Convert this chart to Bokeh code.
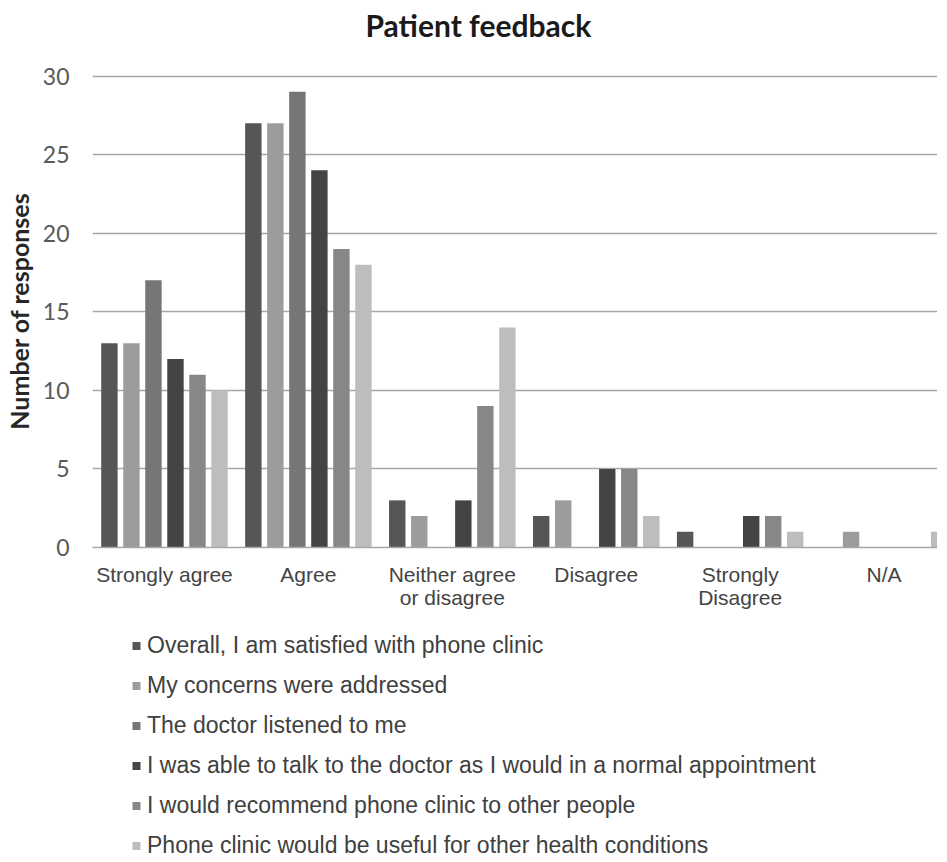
from bokeh.plotting import figure
from bokeh.layouts import column
from bokeh.models import (FixedTicker, Range1d, Legend, LegendItem, ColumnDataSource, Title)
from bokeh.transform import dodge
from bokeh.embed import file_html
from bokeh.resources import INLINE

# ---- data ----
categories = ["Strongly agree", "Agree", "Neither agree\nor disagree", "Disagree",
              "Strongly\nDisagree", "N/A"]
series_names = [
    "Overall, I am satisfied with phone clinic",
    "My concerns were addressed",
    "The doctor listened to me",
    "I was able to talk to the doctor as I would in a normal appointment",
    "I would recommend phone clinic to other people",
    "Phone clinic would be useful for other health conditions",
]
overall = [13, 27, 3, 2, 1, 0]
concerns = [13, 27, 2, 3, 0, 1]
doctor = [17, 29, 0, 0, 0, 0]
able = [12, 24, 3, 5, 2, 0]
recommend = [11, 19, 9, 5, 2, 0]
useful = [10, 18, 14, 2, 1, 1]
y_ticks = [0, 5, 10, 15, 20, 25, 30]

colors = ["#565656", "#9c9c9c", "#767676", "#444444", "#878787", "#bdbdbd"]
keys = ["overall", "concerns", "doctor", "able", "recommend", "useful"]
values = [overall, concerns, doctor, able, recommend, useful]

src = ColumnDataSource(dict(x=list(range(len(categories))),
                            **{k: v for k, v in zip(keys, values)}))

# ---- main chart ----
p = figure(frame_width=845, frame_height=473,
           x_range=Range1d(-0.5, 5.371), y_range=Range1d(0, 30.1),
           output_backend="svg", toolbar_location=None,
           min_border_left=86, min_border_right=0, min_border_top=60,
           min_border_bottom=70)

# spacer between the title and the plot frame
p.add_layout(Title(text=" ", text_font_size="1px", standoff=25), "above")

p.title.text = "Patient feedback"
p.title.text_font = "Lato"
p.title.text_font_size = "30px"
p.title.text_font_style = "bold"
p.title.text_color = "#1a1a1a"
p.title.align = "left"
p.title.offset = 273
p.title.vertical_align = "bottom"
p.title.standoff = 8

n = len(keys)
bar_step = 0.153
for i, (k, c) in enumerate(zip(keys, colors)):
    p.vbar(x=dodge("x", (i - (n - 1) / 2) * bar_step, range=p.x_range), top=k,
           width=0.114, source=src, fill_color=c, line_color=None)

p.xaxis.ticker = FixedTicker(ticks=list(range(len(categories))))
p.xaxis.major_label_overrides = {i: c for i, c in enumerate(categories)}
p.xaxis.major_label_text_font = "Liberation Sans"
p.xaxis.major_label_text_font_size = "21px"
p.xaxis.major_label_text_line_height = 1.0
p.xaxis.major_label_text_color = "#444444"
p.xaxis.major_label_standoff = 9
p.xaxis.major_tick_line_color = None
p.xaxis.minor_tick_line_color = None
p.xaxis.axis_line_color = "#a6a6a6"
p.xaxis.axis_line_width = 1.5

p.yaxis.ticker = FixedTicker(ticks=y_ticks)
p.yaxis.major_label_text_font = "Lato"
p.yaxis.major_label_text_font_size = "23px"
p.yaxis.major_label_text_color = "#595959"
p.yaxis.major_label_standoff = 17
p.yaxis.major_tick_line_color = None
p.yaxis.minor_tick_line_color = None
p.yaxis.axis_line_color = None
p.yaxis.axis_label = "Number of responses"
p.yaxis.axis_label_text_font = "Lato"
p.yaxis.axis_label_text_font_size = "25px"
p.yaxis.axis_label_text_font_style = "bold"
p.yaxis.axis_label_text_color = "#262626"
p.yaxis.axis_label_standoff = 6

p.xgrid.visible = False
p.ygrid.grid_line_color = "#a6a6a6"
p.ygrid.grid_line_width = 1.5
p.outline_line_color = None

# ---- legend panel (below the chart) ----
# its ranges are placed away from the data so that only the legend shows
lg = figure(width=931, height=242, output_backend="svg", toolbar_location=None,
            x_range=Range1d(100, 101), y_range=Range1d(100, 101),
            x_axis_location=None, y_axis_location=None,
            min_border_left=0, min_border_right=0, min_border_top=0,
            min_border_bottom=0)
lg.outline_line_color = None
lg.grid.visible = False

items = []
for name, k, c in zip(series_names, keys, colors):
    r = lg.scatter(x="x", y=k, source=src, marker="square", size=8,
                   fill_color=c, line_color=None)
    items.append(LegendItem(label=name, renderers=[r]))
legend = Legend(items=items, location=(34, 0), orientation="vertical",
                glyph_width=20, glyph_height=27, label_height=27, spacing=13,
                padding=0, label_standoff=1, margin=0,
                label_text_font="Liberation Sans", label_text_font_size="23px",
                label_text_color="#404040", border_line_color=None,
                background_fill_alpha=0)
lg.add_layout(legend, "center")

layout = column(p, lg, spacing=0)
open("out.html", "w").write(file_html(layout, INLINE))
